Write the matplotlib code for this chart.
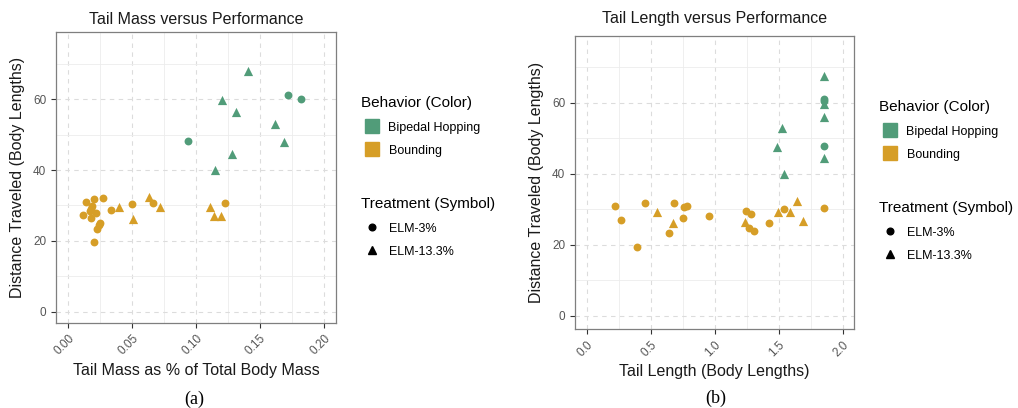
import numpy as np
import matplotlib
matplotlib.use('Agg')
import matplotlib.pyplot as plt
from matplotlib.lines import Line2D
from matplotlib.ticker import MultipleLocator

plt.rcParams['font.family'] = ['Liberation Sans', 'DejaVu Sans']

# ------------------------------------------------------
#  Data
# ------------------------------------------------------

# Panel (a): tail mass (% of body mass) vs distance
mass_hop_elm3 = [0.0935, 0.1721, 0.1818]
dist_hop_elm3_a = [48.2, 61.3, 60.1]
mass_hop_elm13 = [0.1409, 0.1206, 0.1313, 0.1620, 0.1688, 0.1280, 0.1148]
dist_hop_elm13_a = [67.9, 59.7, 56.3, 53.1, 47.8, 44.5, 40.0]
mass_bound_elm3 = [0.0138, 0.0206, 0.0276, 0.0190, 0.0180, 0.0172, 0.0120, 0.0216, 0.0177,
                   0.0250, 0.0229, 0.0240, 0.0203, 0.0336, 0.0497, 0.0661, 0.1229]
dist_bound_elm3_a = [31.0, 31.9, 32.0, 29.9, 29.0, 28.3, 27.2, 27.8, 26.4,
                     25.0, 23.4, 24.4, 19.6, 28.7, 30.4, 30.8, 30.7]
mass_bound_elm13 = [0.0396, 0.0510, 0.0633, 0.0719, 0.1112, 0.1141, 0.1195]
dist_bound_elm13_a = [29.7, 26.3, 32.5, 29.6, 29.6, 26.9, 27.1]

# Panel (b): tail length (body lengths) vs distance
len_hop_elm3 = [1.852, 1.852, 1.852]
dist_hop_elm3_b = [61.2, 60.4, 47.9]
len_hop_elm13 = [1.852, 1.852, 1.852, 1.850, 1.487, 1.529, 1.544]
dist_hop_elm13_b = [67.6, 59.6, 56.1, 44.4, 47.6, 53.0, 39.9]
len_bound_elm3 = [0.219, 0.271, 0.391, 0.458, 0.680, 0.641, 0.750, 0.760, 0.786,
                  0.955, 1.245, 1.281, 1.270, 1.305, 1.422, 1.544, 1.852]
dist_bound_elm3_b = [30.9, 27.0, 19.4, 31.7, 31.9, 23.3, 27.7, 30.7, 30.9,
                     28.1, 29.5, 28.6, 24.7, 23.9, 26.3, 30.1, 30.5]
len_bound_elm13 = [0.549, 0.677, 1.239, 1.495, 1.589, 1.646, 1.688]
dist_bound_elm13_b = [29.3, 26.3, 26.5, 29.3, 29.3, 32.3, 26.8]

behaviors = ['Bipedal Hopping', 'Bounding']
treatments = ['ELM-3%', 'ELM-13.3%']

GREEN = '#519c79'
ORANGE = '#d69e27'

W, H = 1018, 408
fig = plt.figure(figsize=(W / 100, H / 100), dpi=100)


def px_axes(l, t, r, b):
    return fig.add_axes([l / W, 1 - b / H, (r - l) / W, (b - t) / H])


def style_axes(ax, xmaj, xfmt):
    ax.xaxis.set_major_locator(MultipleLocator(xmaj))
    ax.xaxis.set_minor_locator(MultipleLocator(xmaj / 2))
    ax.yaxis.set_major_locator(MultipleLocator(20))
    ax.yaxis.set_minor_locator(MultipleLocator(10))
    ax.xaxis.set_major_formatter(xfmt)
    ax.grid(which='major', color='#dcdcdc', linestyle=(0, (4, 4)), linewidth=0.8)
    ax.grid(which='minor', color='#ececec', linestyle='-', linewidth=0.6)
    ax.set_axisbelow(True)
    ax.tick_params(which='minor', length=0)
    ax.tick_params(which='major', length=3.5, width=0.8, color='#333333',
                   labelsize=8.5, labelcolor='#555555')
    for lab in ax.get_xticklabels():
        lab.set_rotation(45)
        lab.set_ha('right')
        lab.set_rotation_mode('anchor')
    for s in ax.spines.values():
        s.set_color('#7f7f7f')
        s.set_linewidth(0.9)


def scatter_panel(ax, x3h, y3h, x13h, y13h, x3b, y3b, x13b, y13b):
    ax.scatter(x3h, y3h, s=32, marker='o', color=GREEN, linewidths=0, zorder=3)
    ax.scatter(x13h, y13h, s=44, marker='^', color=GREEN, linewidths=0, zorder=3)
    ax.scatter(x3b, y3b, s=32, marker='o', color=ORANGE, linewidths=0, zorder=3)
    ax.scatter(x13b, y13b, s=44, marker='^', color=ORANGE, linewidths=0, zorder=3)


def add_legends(ax, x, y1, y2):
    opts = dict(loc='upper left', bbox_transform=fig.transFigure, frameon=False,
                alignment='left', handlelength=1.8, handleheight=1.0, handletextpad=0.4,
                labelspacing=0.85, borderpad=0, borderaxespad=0,
                fontsize=9, title_fontsize=11)
    color_handles = [Line2D([], [], marker='s', color=GREEN, linestyle='none', markersize=9.5),
                     Line2D([], [], marker='s', color=ORANGE, linestyle='none', markersize=9.5)]
    leg1 = ax.legend(color_handles, behaviors, title='Behavior (Color)',
                     bbox_to_anchor=(x / W, 1 - y1 / H), **opts)
    ax.add_artist(leg1)
    shape_handles = [Line2D([], [], marker='o', color='black', linestyle='none', markersize=4.8),
                     Line2D([], [], marker='^', color='black', linestyle='none', markersize=5.8)]
    ax.legend(shape_handles, treatments, title='Treatment (Symbol)',
              bbox_to_anchor=(x / W, 1 - y2 / H), **opts)


# ------------------------------------------------------
#  Panel (a)
# ------------------------------------------------------
ax1 = px_axes(56, 32, 336, 323)
scatter_panel(ax1, mass_hop_elm3, dist_hop_elm3_a, mass_hop_elm13, dist_hop_elm13_a,
              mass_bound_elm3, dist_bound_elm3_a, mass_bound_elm13, dist_bound_elm13_a)
ax1.set_xlim(-0.0094, 0.2094)
ax1.set_ylim(-3.2, 79.0)
style_axes(ax1, 0.05, matplotlib.ticker.FormatStrFormatter('%.2f'))
ax1.set_title('Tail Mass versus Performance', fontsize=11.5, color='#1a1a1a', pad=6)
ax1.set_xlabel('Tail Mass as % of Total Body Mass', fontsize=11.5, color='#1a1a1a', labelpad=4)
ax1.set_ylabel('Distance Traveled (Body Lengths)', fontsize=11.5, color='#1a1a1a', labelpad=6)
add_legends(ax1, 361, 96, 197)
fig.text(194 / W, 1 - 399 / H, '(a)', ha='center', va='center',
         fontsize=13, family='Liberation Serif')

# ------------------------------------------------------
#  Panel (b)
# ------------------------------------------------------
ax2 = px_axes(575, 36, 854, 329)
scatter_panel(ax2, len_hop_elm3, dist_hop_elm3_b, len_hop_elm13, dist_hop_elm13_b,
              len_bound_elm3, dist_bound_elm3_b, len_bound_elm13, dist_bound_elm13_b)
ax2.set_xlim(-0.091, 2.088)
ax2.set_ylim(-3.66, 78.8)
style_axes(ax2, 0.5, matplotlib.ticker.FormatStrFormatter('%.1f'))
ax2.set_title('Tail Length versus Performance', fontsize=11.5, color='#1a1a1a', pad=9)
ax2.set_xlabel('Tail Length (Body Lengths)', fontsize=11.5, color='#1a1a1a', labelpad=4)
ax2.set_ylabel('Distance Traveled (Body Lengths)', fontsize=11.5, color='#1a1a1a', labelpad=6)
add_legends(ax2, 879, 100, 201)
fig.text(716 / W, 1 - 398 / H, '(b)', ha='center', va='center',
         fontsize=13, family='Liberation Serif')

fig.savefig('out.png', dpi=100)
